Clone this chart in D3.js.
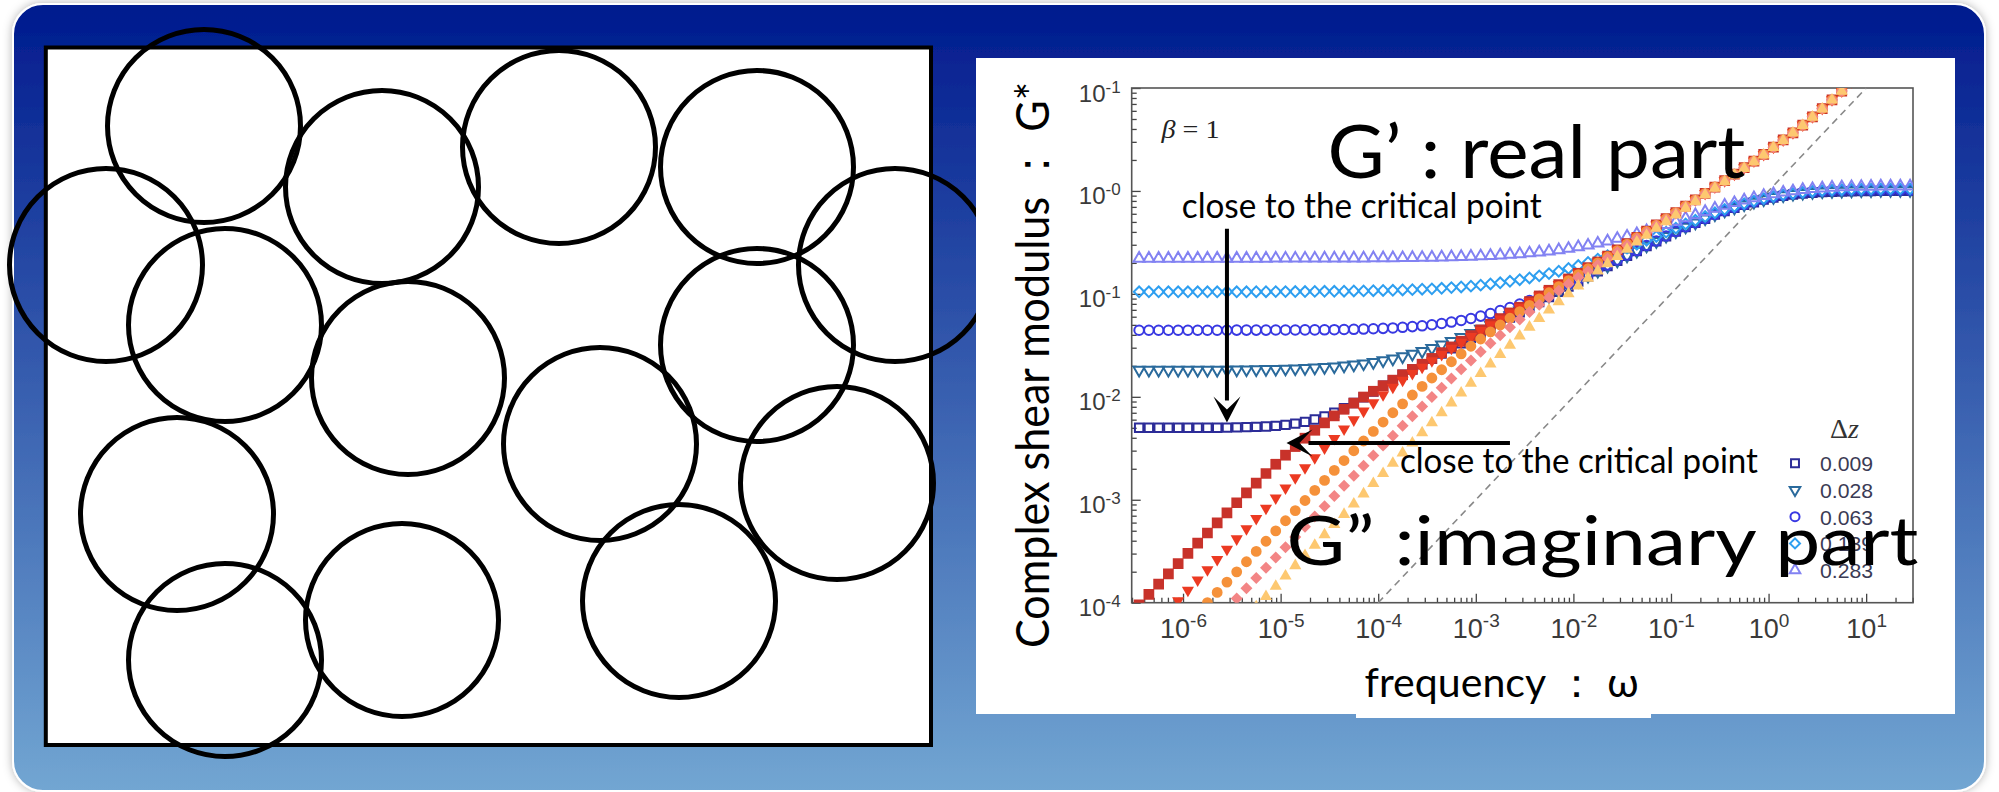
<!DOCTYPE html>
<html>
<head>
<meta charset="utf-8">
<script src="https://cdn.jsdelivr.net/npm/d3@7"></script>
<style>
  body { margin: 0; background: #fff; }
  svg { display: block; }
</style>
</head>
<body>
<script>
// ---- data -------------------------------------------------------------
// frequency grid (log10 ω), ten points per decade
const freqExp = [-6.45,-6.35,-6.25,-6.15,-6.05,-5.95,-5.85,-5.75,-5.65,-5.55,
  -5.45,-5.35,-5.25,-5.15,-5.05,-4.95,-4.85,-4.75,-4.65,-4.55,
  -4.45,-4.35,-4.25,-4.15,-4.05,-3.95,-3.85,-3.75,-3.65,-3.55,
  -3.45,-3.35,-3.25,-3.15,-3.05,-2.95,-2.85,-2.75,-2.65,-2.55,
  -2.45,-2.35,-2.25,-2.15,-2.05,-1.95,-1.85,-1.75,-1.65,-1.55,
  -1.45,-1.35,-1.25,-1.15,-1.05,-0.95,-0.85,-0.75,-0.65,-0.55,
  -0.45,-0.35,-0.25,-0.15,-0.05,0.05,0.15,0.25,0.35,0.45,
  0.55,0.65,0.75,0.85,0.95,1.05,1.15,1.25,1.35,1.45];

const deltaZ = ["0.009", "0.028", "0.063", "0.139", "0.283"];

// storage modulus G' (log10), one list per Δz
const storage009 = [-2.30,-2.30,-2.30,-2.30,-2.30,-2.30,-2.30,-2.30,-2.30,-2.299,
  -2.297,-2.295,-2.292,-2.288,-2.282,-2.273,-2.26,-2.243,-2.22,-2.19,
  -2.155,-2.11,-2.06,-2.005,-1.95,-1.893,-1.838,-1.785,-1.733,-1.682,
  -1.631,-1.58,-1.53,-1.48,-1.43,-1.38,-1.33,-1.28,-1.23,-1.18,
  -1.13,-1.08,-1.03,-0.98,-0.93,-0.88,-0.83,-0.78,-0.73,-0.68,
  -0.63,-0.585,-0.535,-0.49,-0.44,-0.395,-0.35,-0.31,-0.27,-0.23,
  -0.195,-0.165,-0.135,-0.11,-0.085,-0.065,-0.048,-0.035,-0.025,-0.018,
  -0.012,-0.008,-0.005,-0.003,-0.002,-0.001,0,0,0,0];
const storage028 = [-1.74,-1.74,-1.74,-1.74,-1.74,-1.74,-1.74,-1.74,-1.74,-1.74,
  -1.737,-1.736,-1.735,-1.733,-1.731,-1.729,-1.726,-1.723,-1.718,-1.713,
  -1.707,-1.698,-1.689,-1.678,-1.664,-1.648,-1.63,-1.608,-1.584,-1.557,
  -1.527,-1.495,-1.46,-1.422,-1.383,-1.342,-1.299,-1.255,-1.21,-1.164,
  -1.118,-1.07,-1.022,-0.974,-0.925,-0.876,-0.827,-0.778,-0.729,-0.679,
  -0.629,-0.584,-0.534,-0.489,-0.439,-0.394,-0.349,-0.309,-0.269,-0.229,
  -0.194,-0.163,-0.133,-0.108,-0.083,-0.062,-0.045,-0.031,-0.021,-0.013,
  -0.007,-0.003,0,0.002,0.003,0.004,0.005,0.005,0.005,0.005];
const storage063 = [-1.353,-1.353,-1.353,-1.353,-1.353,-1.353,-1.353,-1.353,-1.353,-1.353,
  -1.352,-1.352,-1.352,-1.352,-1.351,-1.351,-1.351,-1.35,-1.35,-1.349,
  -1.348,-1.346,-1.344,-1.342,-1.339,-1.335,-1.331,-1.325,-1.318,-1.31,
  -1.30,-1.288,-1.274,-1.258,-1.239,-1.216,-1.191,-1.163,-1.133,-1.099,
  -1.064,-1.026,-0.986,-0.944,-0.901,-0.856,-0.811,-0.765,-0.718,-0.671,
  -0.623,-0.579,-0.53,-0.486,-0.437,-0.393,-0.348,-0.308,-0.268,-0.228,
  -0.192,-0.161,-0.13,-0.104,-0.078,-0.057,-0.039,-0.025,-0.014,-0.006,
  0,0.004,0.007,0.009,0.01,0.01,0.01,0.01,0.01,0.01];
const storage139 = [-0.98,-0.98,-0.98,-0.98,-0.98,-0.98,-0.98,-0.98,-0.98,-0.98,
  -0.98,-0.98,-0.979,-0.979,-0.978,-0.978,-0.977,-0.977,-0.976,-0.975,
  -0.975,-0.974,-0.972,-0.971,-0.969,-0.967,-0.965,-0.962,-0.959,-0.955,
  -0.951,-0.946,-0.939,-0.933,-0.925,-0.915,-0.904,-0.892,-0.878,-0.862,
  -0.845,-0.825,-0.803,-0.78,-0.753,-0.725,-0.695,-0.662,-0.628,-0.592,
  -0.554,-0.519,-0.479,-0.442,-0.40,-0.361,-0.321,-0.285,-0.249,-0.212,
  -0.179,-0.151,-0.123,-0.099,-0.075,-0.055,-0.038,-0.025,-0.014,-0.005,
  0.003,0.008,0.012,0.015,0.017,0.018,0.019,0.02,0.02,0.02];
const storage283 = [-0.656,-0.656,-0.656,-0.656,-0.656,-0.656,-0.656,-0.656,-0.656,-0.656,
  -0.656,-0.656,-0.656,-0.656,-0.655,-0.655,-0.655,-0.655,-0.655,-0.654,
  -0.654,-0.654,-0.653,-0.653,-0.652,-0.652,-0.651,-0.65,-0.649,-0.648,
  -0.646,-0.644,-0.642,-0.64,-0.637,-0.633,-0.629,-0.624,-0.618,-0.612,
  -0.604,-0.595,-0.585,-0.573,-0.56,-0.545,-0.529,-0.509,-0.488,-0.463,
  -0.441,-0.417,-0.389,-0.361,-0.328,-0.296,-0.264,-0.233,-0.202,-0.17,
  -0.141,-0.116,-0.091,-0.069,-0.047,-0.029,-0.014,-0.002,0.012,0.02,
  0.027,0.033,0.037,0.04,0.042,0.044,0.045,0.045,0.045,0.045];

// loss modulus G'' (log10), one list per Δz
const loss009 = [-4.02,-3.92,-3.82,-3.72,-3.621,-3.521,-3.422,-3.323,-3.225,-3.127,
  -3.029,-2.933,-2.838,-2.745,-2.655,-2.567,-2.483,-2.402,-2.325,-2.253,
  -2.185,-2.121,-2.061,-2.002,-1.946,-1.892,-1.838,-1.786,-1.734,-1.683,
  -1.627,-1.571,-1.515,-1.46,-1.405,-1.35,-1.295,-1.24,-1.185,-1.13,
  -1.075,-1.02,-0.965,-0.91,-0.855,-0.8,-0.745,-0.69,-0.632,-0.573,
  -0.512,-0.45,-0.39,-0.33,-0.27,-0.21,-0.148,-0.086,-0.024,0.038,
  0.1,0.163,0.226,0.29,0.355,0.425,0.495,0.565,0.64,0.72,
  0.8,0.885,0.97,1.06,1.15,1.24,1.33,1.42,1.51,1.6];
const loss028 = [-4.38,-4.28,-4.18,-4.08,-3.98,-3.88,-3.78,-3.68,-3.58,-3.48,
  -3.38,-3.281,-3.182,-3.082,-2.983,-2.885,-2.786,-2.689,-2.592,-2.497,
  -2.404,-2.312,-2.224,-2.139,-2.058,-1.98,-1.908,-1.839,-1.774,-1.712,
  -1.649,-1.588,-1.529,-1.47,-1.413,-1.356,-1.299,-1.243,-1.187,-1.13,
  -1.075,-1.02,-0.965,-0.91,-0.855,-0.8,-0.745,-0.69,-0.632,-0.573,
  -0.512,-0.45,-0.39,-0.33,-0.27,-0.21,-0.148,-0.086,-0.024,0.038,
  0.1,0.163,0.226,0.29,0.355,0.425,0.495,0.565,0.64,0.72,
  0.8,0.885,0.97,1.06,1.15,1.24,1.33,1.42,1.51,1.6];
const loss063 = [-4.7,-4.6,-4.5,-4.4,-4.3,-4.2,-4.1,-4.0,-3.9,-3.8,
  -3.7,-3.602,-3.502,-3.403,-3.303,-3.204,-3.105,-3.007,-2.909,-2.812,
  -2.715,-2.619,-2.524,-2.429,-2.336,-2.245,-2.155,-2.068,-1.982,-1.899,
  -1.817,-1.737,-1.659,-1.583,-1.509,-1.438,-1.369,-1.302,-1.237,-1.173,
  -1.111,-1.049,-0.989,-0.93,-0.871,-0.813,-0.756,-0.699,-0.639,-0.579,
  -0.517,-0.454,-0.393,-0.332,-0.27,-0.21,-0.148,-0.086,-0.024,0.038,
  0.1,0.163,0.226,0.29,0.355,0.425,0.495,0.565,0.64,0.72,
  0.8,0.885,0.97,1.06,1.15,1.24,1.33,1.42,1.51,1.6];
const loss139 = [-4.96,-4.86,-4.76,-4.66,-4.56,-4.46,-4.36,-4.26,-4.16,-4.06,
  -3.96,-3.86,-3.761,-3.661,-3.561,-3.462,-3.362,-3.262,-3.163,-3.063,
  -2.964,-2.865,-2.767,-2.669,-2.571,-2.474,-2.378,-2.282,-2.188,-2.095,
  -2.002,-1.911,-1.821,-1.733,-1.647,-1.563,-1.48,-1.401,-1.324,-1.248,
  -1.176,-1.105,-1.036,-0.97,-0.905,-0.842,-0.779,-0.718,-0.656,-0.593,
  -0.528,-0.463,-0.401,-0.339,-0.278,-0.216,-0.153,-0.09,-0.027,0.036,
  0.1,0.163,0.226,0.29,0.355,0.425,0.495,0.565,0.64,0.72,
  0.8,0.885,0.97,1.06,1.15,1.24,1.33,1.42,1.51,1.6];
const loss283 = [-5.24,-5.14,-5.04,-4.94,-4.84,-4.74,-4.64,-4.54,-4.44,-4.34,
  -4.24,-4.14,-4.04,-3.94,-3.84,-3.74,-3.64,-3.541,-3.441,-3.341,
  -3.241,-3.142,-3.042,-2.943,-2.843,-2.744,-2.645,-2.546,-2.448,-2.35,
  -2.252,-2.155,-2.059,-1.962,-1.868,-1.773,-1.681,-1.589,-1.499,-1.41,
  -1.323,-1.239,-1.157,-1.077,-0.999,-0.923,-0.849,-0.778,-0.707,-0.637,
  -0.567,-0.497,-0.43,-0.363,-0.298,-0.234,-0.168,-0.103,-0.038,0.026,
  0.09,0.155,0.219,0.284,0.35,0.421,0.491,0.562,0.637,0.717,
  0.797,0.883,0.968,1.058,1.148,1.238,1.328,1.418,1.508,1.598];

// axis ticks and their printed exponents
const xTickValues = [1e-6, 1e-5, 1e-4, 1e-3, 1e-2, 1e-1, 1, 10];
const xTickExp = ["-6", "-5", "-4", "-3", "-2", "-1", "0", "1"];
const yTickValues = [1e-4, 1e-3, 1e-2, 1e-1, 1, 10];
const yTickExp = ["-4", "-3", "-2", "-1", "-0", "-1"];

// reference slope-one line G = ω
const refLine = [[1e-4, 1e-4], [10, 10]];

// disk packing sketch: disk centres (px)
const disks = [[204,126],[382,187],[559,147],[757,167],[895,265],[106,265],
  [225,325],[408,378],[600,444],[757,345],[837,483],[177,514],
  [225,660],[402,620],[679,601]];

// ---- page -------------------------------------------------------------
const W = 1999, H = 792;
const svg = d3.select("body").append("svg").attr("width", W).attr("height", H);
const defs = svg.append("defs");

const bg = defs.append("linearGradient").attr("id", "bg")
  .attr("x1", 0).attr("y1", 0).attr("x2", 0).attr("y2", 1);
bg.append("stop").attr("offset", "0%").attr("stop-color", "#001a8e");
bg.append("stop").attr("offset", "100%").attr("stop-color", "#72a6d2");

const shadow = defs.append("filter").attr("id", "shadow")
  .attr("x", "-2%").attr("y", "-2%").attr("width", "104%").attr("height", "104%");
shadow.append("feDropShadow").attr("dx", 0).attr("dy", 0)
  .attr("stdDeviation", 5).attr("flood-color", "#000").attr("flood-opacity", 0.3);

svg.append("rect").attr("x", 13).attr("y", 4).attr("width", 1972).attr("height", 787)
  .attr("rx", 30).attr("fill", "url(#bg)")
  .attr("stroke", "#fff").attr("stroke-width", 2).attr("filter", "url(#shadow)");

// ---- disk packing panel -----------------------------------------------
svg.append("rect").attr("x", 45.8).attr("y", 47.5).attr("width", 885.2).attr("height", 697.5)
  .attr("fill", "#fff").attr("stroke", "#000").attr("stroke-width", 4);
svg.append("g").selectAll("circle").data(disks).join("circle")
  .attr("cx", d => d[0]).attr("cy", d => d[1]).attr("r", 96.5)
  .attr("fill", "none").attr("stroke", "#000").attr("stroke-width", 5);

// ---- modulus chart panel ----------------------------------------------
svg.append("rect").attr("x", 976).attr("y", 58).attr("width", 979).attr("height", 656).attr("fill", "#fff");
svg.append("rect").attr("x", 1356).attr("y", 700).attr("width", 295).attr("height", 18).attr("fill", "#fff");

const PL = 1131.7, PR = 1913, PT = 88, PB = 602.7;
const x = d3.scaleLog().domain([Math.pow(10, -6.526), Math.pow(10, 1.48)]).range([PL, PR]);
const y = d3.scaleLog().domain([1e-4, 10]).range([PB, PT]);

defs.append("clipPath").attr("id", "plotclip").append("rect")
  .attr("x", PL).attr("y", PT).attr("width", PR - PL).attr("height", PB - PT);

// minor tick positions
const yMinor = [], xMinor = [];
for (let e = -4; e < 1; e++) for (let m = 2; m < 10; m++) yMinor.push(m * Math.pow(10, e));
for (let e = -7; e < 2; e++) for (let m = 2; m < 10; m++) {
  const v = m * Math.pow(10, e);
  if (x(v) > PL && x(v) < PR) xMinor.push(v);
}

const tickFont = "'Liberation Sans', Arial, Helvetica, sans-serif";

// y axis: minor ticks (unlabelled), then labelled decades
const gy = svg.append("g").attr("transform", `translate(${PL},0)`);
gy.call(d3.axisLeft(y).tickValues(yMinor).tickSize(-5).tickFormat(""));
gy.call(g => { g.select(".domain").remove(); g.selectAll("text").remove(); });
const gyMaj = svg.append("g").attr("transform", `translate(${PL},0)`);
gyMaj.call(d3.axisLeft(y).tickValues(yTickValues).tickSize(-9).tickPadding(11));
gyMaj.select(".domain").remove();
gyMaj.selectAll(".tick text").each(function (d, i) {
  const t = d3.select(this).text(null)
    .attr("font-family", tickFont).attr("font-size", 24).attr("fill", "#3a3a3a")
    .attr("dy", 13);
  t.append("tspan").text("10");
  t.append("tspan").attr("font-size", 17).attr("dy", -9).text(yTickExp[i]);
});

// x axis: minor ticks (unlabelled), then labelled decades
const gx = svg.append("g").attr("transform", `translate(0,${PB})`);
gx.call(d3.axisBottom(x).tickValues(xMinor).tickSize(-5).tickFormat(""));
gx.call(g => { g.select(".domain").remove(); g.selectAll("text").remove(); });
const gxMaj = svg.append("g").attr("transform", `translate(0,${PB})`);
gxMaj.call(d3.axisBottom(x).tickValues(xTickValues).tickSize(-9).tickPadding(16));
gxMaj.select(".domain").remove();
gxMaj.selectAll(".tick text").each(function (d, i) {
  const t = d3.select(this).text(null)
    .attr("font-family", tickFont).attr("font-size", 27).attr("fill", "#3a3a3a")
    .attr("dy", 19);
  t.append("tspan").text("10");
  t.append("tspan").attr("font-size", 19).attr("dy", -11).text(xTickExp[i]);
});
svg.selectAll(".tick line").attr("stroke", "#444").attr("stroke-width", 1.3);

// frame
svg.append("rect").attr("x", PL).attr("y", PT).attr("width", PR - PL).attr("height", PB - PT)
  .attr("fill", "none").attr("stroke", "#555").attr("stroke-width", 1.6);

// reference line
svg.append("path").datum(refLine)
  .attr("d", d3.line().x(d => x(d[0])).y(d => y(d[1])))
  .attr("fill", "none").attr("stroke", "#888").attr("stroke-width", 1.6)
  .attr("stroke-dasharray", "7,5");

// markers
const shapes = [
  { type: d3.symbolSquare,   open: 70, filled: 115, rot: 0 },
  { type: d3.symbolTriangle, open: 54, filled: 64,  rot: 180 },
  { type: d3.symbolCircle,   open: 72, filled: 92,  rot: 0 },
  { type: d3.symbolSquare,   open: 56, filled: 72,  rot: 45 },
  { type: d3.symbolTriangle, open: 54, filled: 64,  rot: 0 }
];
const storageColors = ["#2c2c98", "#2a6a9c", "#3838e2", "#2e9ff0", "#8282f2"];
const lossColors = ["#c8322a", "#ec3a22", "#f5913a", "#f38585", "#fdc870"];
const storageSeries = [storage009, storage028, storage063, storage139, storage283];
const lossSeries = [loss009, loss028, loss063, loss139, loss283];

const plot = svg.append("g").attr("clip-path", "url(#plotclip)");
const pts = vals => vals.map((v, k) => [Math.pow(10, freqExp[k]), Math.pow(10, v)])
  .filter(d => d[1] > 6e-5);

storageSeries.forEach((vals, i) => {
  const s = shapes[i];
  plot.append("g").selectAll("path").data(pts(vals)).join("path")
    .attr("d", d3.symbol().type(s.type).size(s.open))
    .attr("transform", d => `translate(${x(d[0])},${y(d[1])}) rotate(${s.rot})`)
    .attr("fill", "none").attr("stroke", storageColors[i]).attr("stroke-width", 2);
});
lossSeries.forEach((vals, i) => {
  const s = shapes[i];
  plot.append("g").selectAll("path").data(pts(vals)).join("path")
    .attr("d", d3.symbol().type(s.type).size(s.filled))
    .attr("transform", d => `translate(${x(d[0])},${y(d[1])}) rotate(${s.rot})`)
    .attr("fill", lossColors[i]);
});

// legend
const legend = svg.append("g");
legend.append("text").attr("x", 1830).attr("y", 438)
  .attr("font-family", "'Liberation Serif', 'Times New Roman', serif").attr("font-size", 28).attr("fill", "#333")
  .call(t => { t.append("tspan").text("Δ"); t.append("tspan").attr("font-style", "italic").text("z"); });
deltaZ.forEach((lab, i) => {
  const cy = 463.3 + 26.7 * i, s = shapes[i];
  legend.append("path")
    .attr("d", d3.symbol().type(s.type).size(s.open * 0.9))
    .attr("transform", `translate(1795,${cy}) rotate(${s.rot})`)
    .attr("fill", "none").attr("stroke", storageColors[i]).attr("stroke-width", 2);
  legend.append("text").attr("x", 1820).attr("y", cy + 8)
    .attr("font-family", tickFont).attr("font-size", 21).attr("fill", "#3b3b55")
    .attr("textLength", 53).attr("lengthAdjust", "spacingAndGlyphs").text(lab);
});

// annotations
const sans = "Lato, 'Open Sans', sans-serif";
const note = (lw, lg, txt, size, len) => svg.append("text")
  .attr("x", x(Math.pow(10, lw))).attr("y", y(Math.pow(10, lg)))
  .attr("font-family", sans).attr("font-size", size).attr("fill", "#000")
  .attr("textLength", len).attr("lengthAdjust", "spacingAndGlyphs").text(txt);

svg.append("text").attr("x", x(Math.pow(10, -6.22))).attr("y", y(Math.pow(10, 0.513)))
  .attr("font-family", "'Liberation Serif', 'Times New Roman', serif").attr("font-size", 25).attr("fill", "#222")
  .attr("textLength", 58).attr("lengthAdjust", "spacingAndGlyphs")
  .call(t => { t.append("tspan").attr("font-style", "italic").text("β"); t.append("tspan").text(" = 1"); });

note(-4.52, 0.124, "G’ : real part", 74, 418);
note(-6.013, -0.264, "close to the critical point", 34, 360);
note(-3.777, -2.743, "close to the critical point", 34, 358);
note(-4.94, -3.634, "G” :imaginary part", 68, 632);

// arrows
function arrow(from, to) {
  const x0 = x(Math.pow(10, from[0])), y0 = y(Math.pow(10, from[1]));
  const x1 = x(Math.pow(10, to[0])), y1 = y(Math.pow(10, to[1]));
  const L = Math.hypot(x1 - x0, y1 - y0), ux = (x1 - x0) / L, uy = (y1 - y0) / L;
  const px = -uy, py = ux;
  const headLen = 26, halfW = 13.5, notch = 13;
  svg.append("line").attr("x1", x0).attr("y1", y0)
    .attr("x2", x1 - ux * (headLen - 4)).attr("y2", y1 - uy * (headLen - 4))
    .attr("stroke", "#000").attr("stroke-width", 4);
  const bx = x1 - ux * headLen, by = y1 - uy * headLen;
  svg.append("path").attr("d",
    `M${x1},${y1} L${bx + px * halfW},${by + py * halfW} L${x1 - ux * notch},${y1 - uy * notch} L${bx - px * halfW},${by - py * halfW} Z`)
    .attr("fill", "#000");
}
arrow([-5.55, -0.368], [-5.55, -2.25]);
arrow([-2.65, -2.448], [-4.94, -2.448]);

// axis titles
svg.append("text").attr("transform", "translate(1049,365) rotate(-90)")
  .attr("text-anchor", "middle").attr("font-family", sans).attr("font-size", 47).attr("fill", "#000")
  .attr("textLength", 566).attr("lengthAdjust", "spacingAndGlyphs")
  .text("Complex shear modulus ： G*");
svg.append("text").attr("x", 1364.6).attr("y", 697.3)
  .attr("font-family", sans).attr("font-size", 41).attr("fill", "#000")
  .attr("textLength", 274).attr("lengthAdjust", "spacingAndGlyphs")
  .text("frequency ： ω");
</script>
</body>
</html>
